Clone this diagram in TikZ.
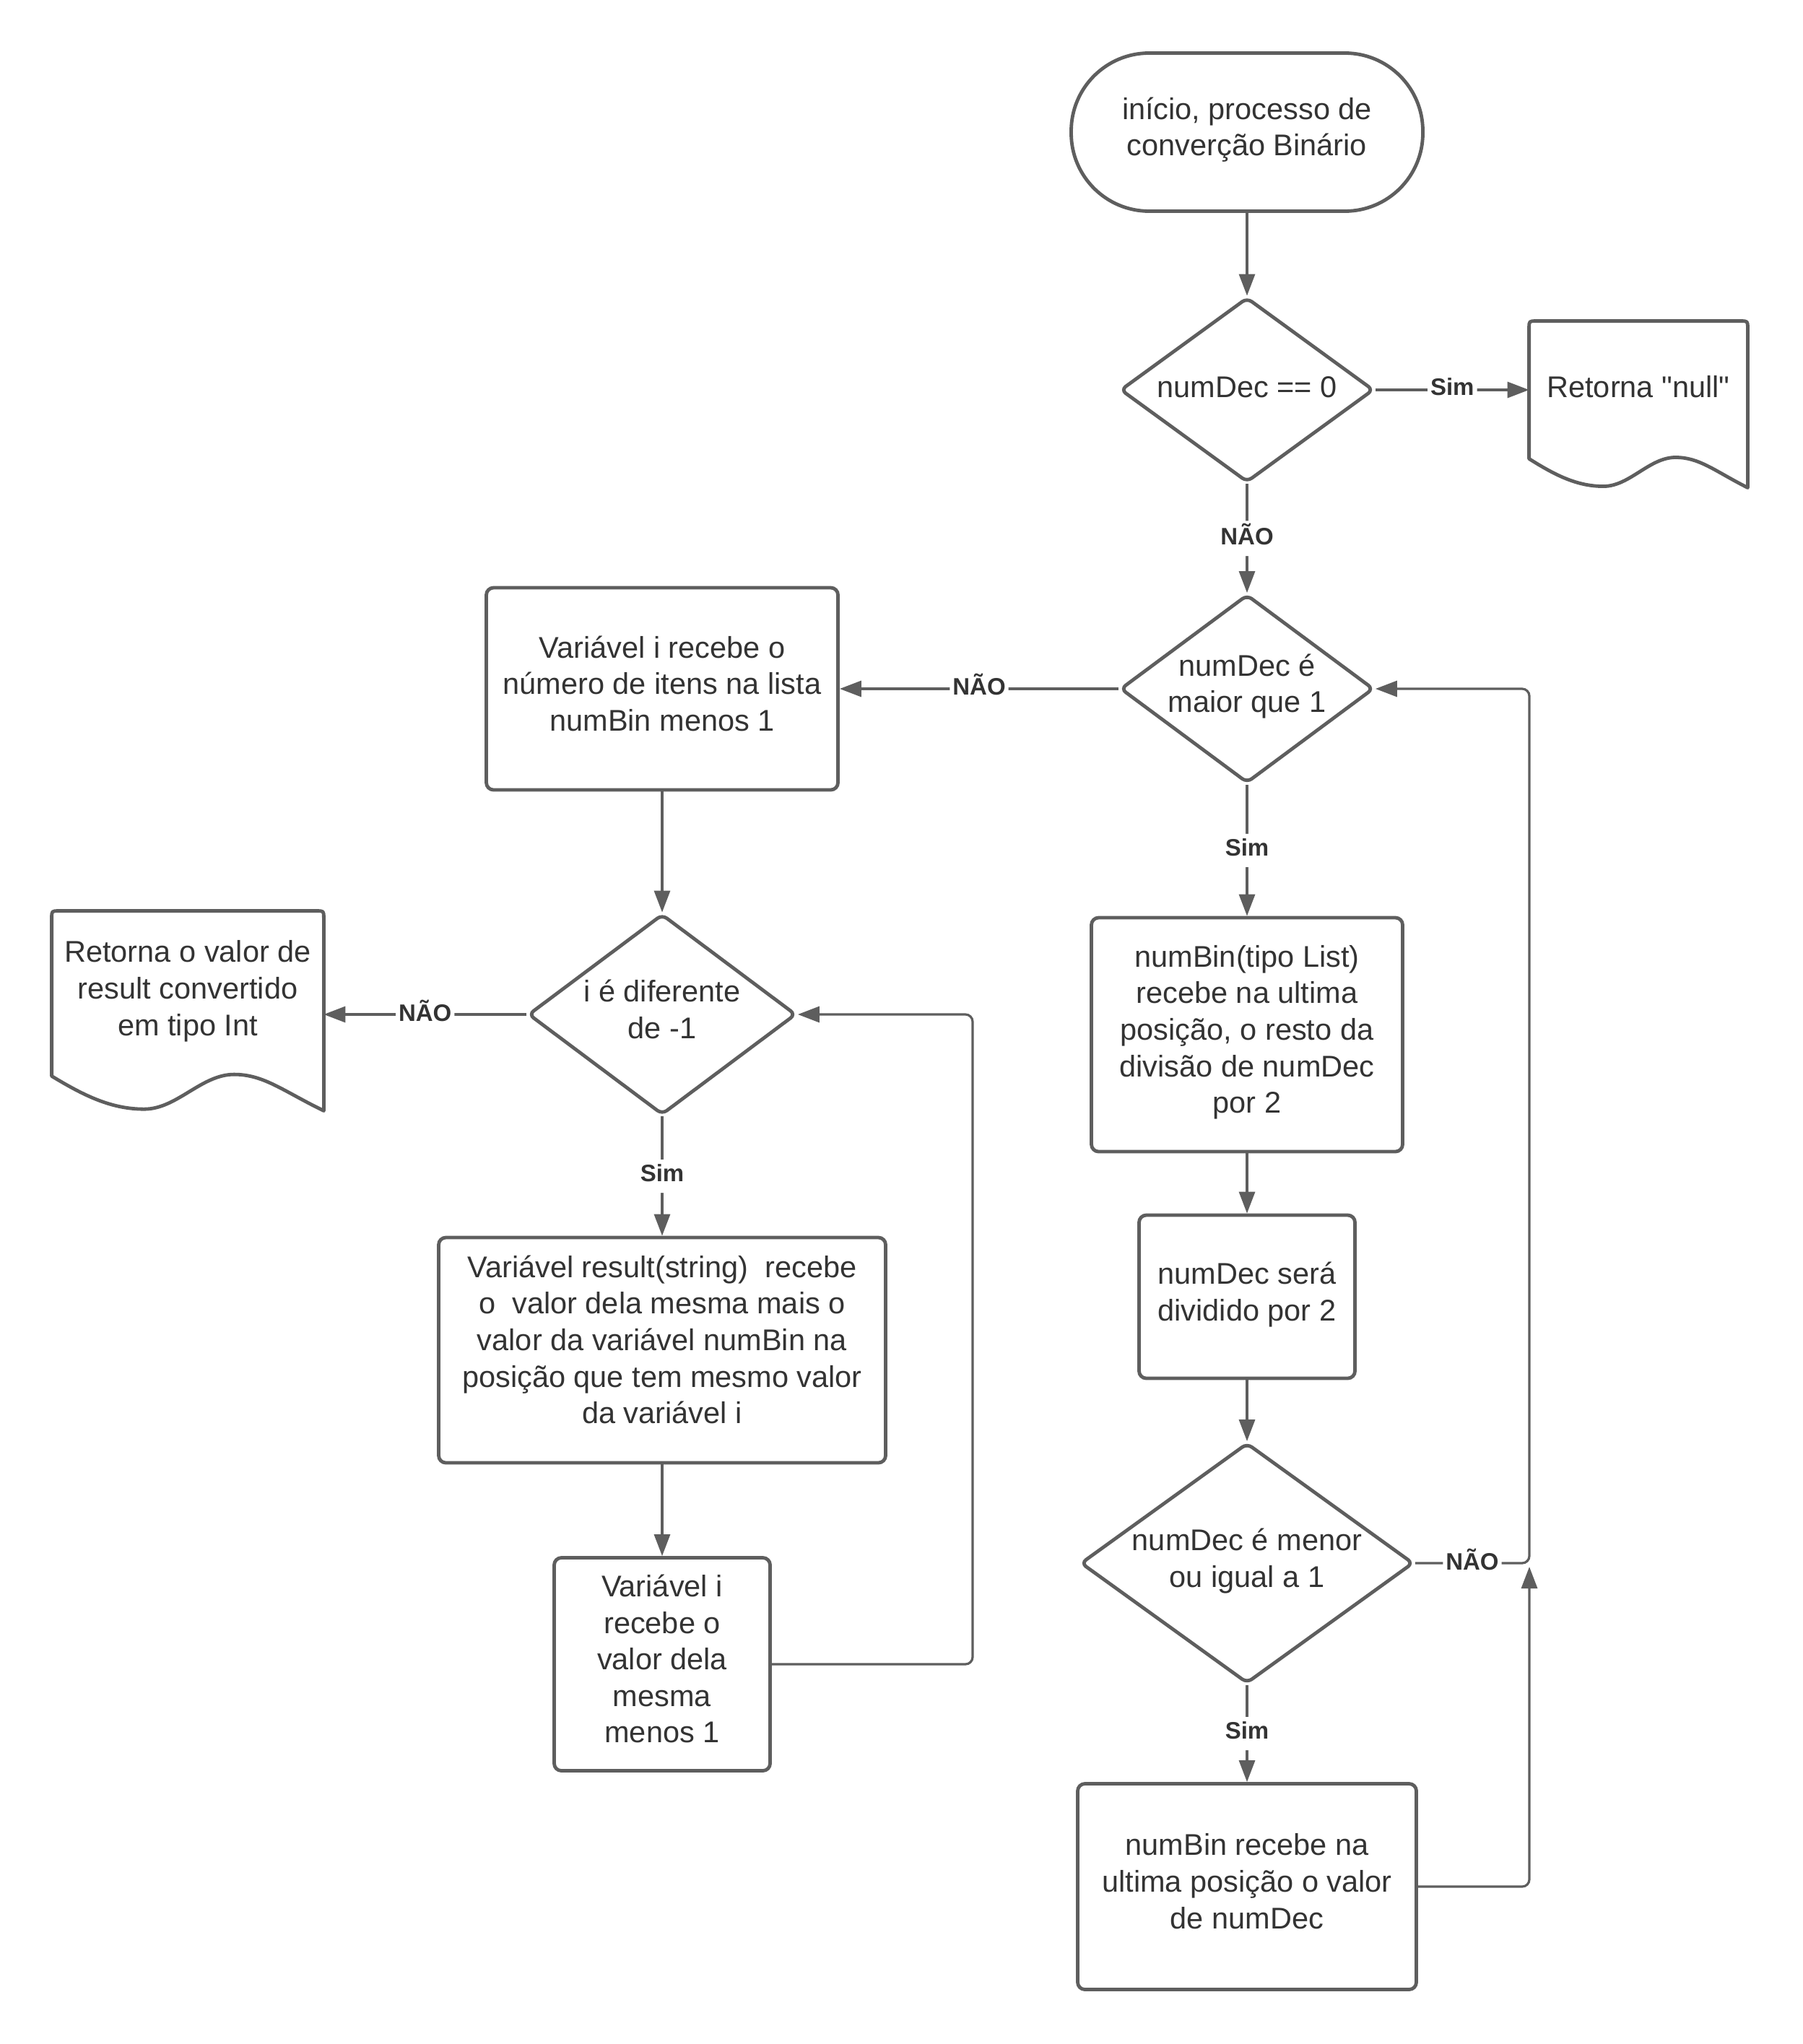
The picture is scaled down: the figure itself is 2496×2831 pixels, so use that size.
\documentclass[tikz,border=0pt]{standalone}
\usepackage{fontspec}
\setmainfont{Liberation Sans}[Ligatures=TeXOff]
\usetikzlibrary{shapes.geometric,arrows.meta,calc}
\definecolor{lc}{HTML}{5E5E5E}
\definecolor{tc}{HTML}{333333}
\tikzset{
  struts/.style={execute at begin node={\strut}, execute at end node={\strut}},
  base/.style={draw=lc, line width=2.4pt, text=tc, align=center, inner sep=0pt,
    font=\fontsize{20.75pt}{25.3pt}\selectfont, struts},
  term/.style={base, rectangle, rounded corners=54pt},
  proc/.style={base, rectangle, rounded corners=5pt},
  dec/.style={base, diamond, rounded corners=4pt},
  doctext/.style={text=tc, align=center, inner sep=0pt,
    font=\fontsize{20.75pt}{25.3pt}\selectfont, struts},
  conn/.style={draw=lc, line width=1.6pt, rounded corners=5pt,
    -{Triangle[length=15pt,width=11pt]}},
  lbl/.style={fill=white, text=tc, inner sep=2pt,
    font=\bfseries\fontsize{16.5pt}{19pt}\selectfont, struts},
  docborder/.style={draw=lc, line width=2.4pt, line join=round},
}
\newcommand\drawdoc[1]{%
  \draw[docborder] let \p1=(#1.south west), \p2=(#1.north east),
      \n1={\x2-\x1}, \n2={0.2*(\y2-\y1)} in
    (\x1,\y1) -- (\x1,\y2-5pt) .. controls (\x1,\y2) .. (\x1+5pt,\y2)
    -- (\x2-5pt,\y2) .. controls (\x2,\y2) .. (\x2,\y2-5pt)
    -- (\x2,\y1-1.05*\n2)
    .. controls (\x2-0.15*\n1,\y1-0.45*\n2) and (\x1+0.78*\n1,\y1+0.05*\n2) .. (\x1+0.67*\n1,\y1+0.05*\n2)
    .. controls (\x1+0.55*\n1,\y1+0.05*\n2) and (\x1+0.46*\n1,\y1-\n2) .. (\x1+0.34*\n1,\y1-\n2)
    .. controls (\x1+0.22*\n1,\y1-\n2) and (\x1+0.12*\n1,\y1-0.6*\n2) .. (\x1,\y1) -- cycle;}
\begin{document}
\begin{tikzpicture}[x=0.5pt,y=-0.5pt]
\fill[white] (0,0) rectangle (2496,2831);
\useasboundingbox (0,0) rectangle (2496,2831);

\node[term, minimum width=243.5pt, minimum height=109.5pt] (start) at (1727,183) {início, processo de\\converção Binário};
\node[dec, minimum width=175.5pt, minimum height=128pt, aspect=1.37] (d1) at (1727,540) {numDec == 0};
\node[doctext, minimum width=151pt, minimum height=95pt] (doc1) at (2269,540) {Retorna "null"};
\drawdoc{doc1}
\node[dec, minimum width=175.5pt, minimum height=130.5pt, aspect=1.345] (d2) at (1727,954) {numDec é\\maior que 1};
\node[proc, minimum width=243.5pt, minimum height=140pt] (b1) at (917,954) {Variável i recebe o\\número de itens na lista\\numBin menos 1};
\node[dec, minimum width=185.5pt, minimum height=139pt, aspect=1.335] (d4) at (917,1405) {i é diferente\\de -1};
\node[doctext, minimum width=188pt, minimum height=114pt] (doc2) at (260,1376) {Retorna o valor de\\result convertido\\em tipo Int};
\drawdoc{doc2}
\node[proc, minimum width=309.5pt, minimum height=156pt] (b2) at (917,1870) {Variável result(string)\ \ recebe\\o\ \ valor dela mesma mais o\\valor da variável numBin na\\posição que tem mesmo valor\\da variável i\rule[-14.8pt]{0pt}{0pt}};
\node[proc, minimum width=149.5pt, minimum height=147.5pt] (b3) at (917,2305) {Variável i\\recebe o\\valor dela\\mesma\\menos 1};
\node[proc, minimum width=215.5pt, minimum height=162pt] (b4) at (1727,1433) {numBin(tipo List)\\recebe na ultima\\posição, o resto da\\divisão de numDec\\por 2};
\node[proc, minimum width=149.5pt, minimum height=113pt] (b5) at (1727,1796) {numDec será\\dividido por 2};
\node[dec, minimum width=230.5pt, minimum height=166.5pt, aspect=1.384] (d3) at (1727,2165) {numDec é menor\\ou igual a 1};
\node[proc, minimum width=234.5pt, minimum height=142.5pt] (b6) at (1727,2613) {numBin recebe na\\ultima posição o valor\\de numDec};

\coordinate (rx) at (2118,0);
\coordinate (lx) at (1347,0);
\coordinate (rj) at (2118,2170);

\draw[conn] (start.south) -- (d1.north);
\draw[conn] (d1.east) -- node[lbl]{Sim} (d1.east -| doc1.west);
\draw[conn] (d1.south) -- node[lbl]{NÃO} (d2.north);
\draw[conn] (d2.west) -- node[lbl]{NÃO} (b1.east);
\draw[conn] (d2.south) -- node[lbl]{Sim} (b4.north);
\draw[conn] (b4.south) -- (b5.north);
\draw[conn] (b5.south) -- (d3.north);
\draw[conn] (d3.south) -- node[lbl]{Sim} (b6.north);
\draw[conn] (d3.east) -- node[lbl]{NÃO} (d3.east -| rx) -- (d2.east -| rx) -- (d2.east);
\draw[conn] (b6.east) -- (b6.east -| rx) -- (rj);
\draw[conn] (b1.south) -- (d4.north);
\draw[conn] (d4.west) -- node[lbl]{NÃO} (d4.west -| doc2.east);
\draw[conn] (d4.south) -- node[lbl]{Sim} (b2.north);
\draw[conn] (b2.south) -- (b3.north);
\draw[conn] (b3.east) -- (b3.east -| lx) -- (d4.east -| lx) -- (d4.east);
\end{tikzpicture}
\end{document}
